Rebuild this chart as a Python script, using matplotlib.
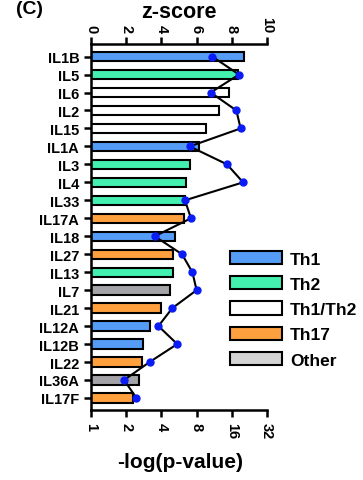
import numpy as np
import matplotlib
matplotlib.use("Agg")
import matplotlib.pyplot as plt
from matplotlib.patches import Patch

plt.rcParams['font.family'] = ['Liberation Sans', 'DejaVu Sans']
plt.rcParams['font.weight'] = 'bold'

genes = ["IL1B", "IL5", "IL6", "IL2", "IL15", "IL1A", "IL3", "IL4", "IL33", "IL17A",
         "IL18", "IL27", "IL13", "IL7", "IL21", "IL12A", "IL12B", "IL22", "IL36A", "IL17F"]
neg_log_p = [20.2, 18.2, 15.2, 12.4, 9.7, 8.4, 7.0, 6.5, 6.4, 6.2,
             5.2, 5.0, 5.0, 4.7, 4.0, 3.2, 2.77, 2.73, 2.57, 2.27]
zscore = [6.89, 8.41, 6.80, 8.26, 8.50, 5.61, 7.73, 8.64, 5.34, 5.68,
          3.62, 5.17, 5.76, 6.00, 4.62, 3.83, 4.90, 3.33, 1.88, 2.58]
groups = ["Th1", "Th2", "Th1/Th2", "Th1/Th2", "Th1/Th2", "Th1", "Th2", "Th2", "Th2", "Th17",
          "Th1", "Th17", "Th2", "Other", "Th17", "Th1", "Th1", "Th17", "Other", "Th17"]

colores = {"Th1": "#559cf7", "Th2": "#43f0b0", "Th1/Th2": "#ffffff",
           "Th17": "#ffa03e", "Other": "#a4a4a8"}
legend_colores = {"Th1": "#559cf7", "Th2": "#43f0b0", "Th1/Th2": "#ffffff",
                  "Th17": "#ffa03e", "Other": "#d4d4d4"}

fig = plt.figure(figsize=(3.63, 4.81), dpi=100)
ax = fig.add_axes([91/363, 70/481, 176/363, 366/481])

y = np.arange(len(genes))
ax.barh(y, np.array(neg_log_p) - 1, left=1, height=0.52,
        color=[colores[g] for g in groups], edgecolor='black', linewidth=1.5)
ax.set_xscale('log', base=2)
ax.set_xlim(1, 32)
ax.set_xticks([1, 2, 4, 8, 16, 32])
ax.set_xticklabels(['1', '2', '4', '8', '16', '32'], rotation=270, fontsize=10.5)
ax.set_ylim(len(genes) - 0.33, -0.7)
ax.set_yticks(y)
ax.set_yticklabels(genes, fontsize=10.5)

ax.spines['right'].set_visible(False)
ax.spines['top'].set_visible(False)
ax.spines['left'].set_linewidth(1.8)
ax.spines['bottom'].set_linewidth(1.8)
ax.tick_params(width=1.8, length=5)

ax2 = ax.twiny()
ax2.plot(zscore, y, color='black', linewidth=1.5, marker='o', markersize=5,
         markerfacecolor='#0a1cf5', markeredgecolor='#0a1cf5', zorder=5)
ax2.set_xlim(0, 10)
ax2.set_xticks([0, 2, 4, 6, 8, 10])
ax2.set_xticklabels(['0', '2', '4', '6', '8', '10'], rotation=270, fontsize=10.5)
ax2.spines['top'].set_linewidth(1.8)
for s in ['right', 'left', 'bottom']:
    ax2.spines[s].set_visible(False)
ax2.tick_params(width=1.8, length=5)

fig.text(179/363, 1 - 13/481, "z-score", ha='center', va='center', fontsize=15.5, fontweight='bold')
fig.text(180/363, 1 - 463/481, "-log(p-value)", ha='center', va='center', fontsize=15, fontweight='bold')
fig.text(16/363, 1 - 10/481, "(C)", ha='left', va='center', fontsize=14, fontweight='bold')

handles = [Patch(facecolor=legend_colores[k], edgecolor='black', linewidth=1.5, label=k)
           for k in ["Th1", "Th2", "Th1/Th2", "Th17", "Other"]]
fig.legend(handles=handles, loc='upper left', bbox_to_anchor=(223/363, 1 - 245/481),
           frameon=False, fontsize=12.5, handlelength=3.0, handleheight=0.8,
           handletextpad=0.45, labelspacing=0.55, borderaxespad=0)

plt.savefig("out.png", dpi=100)
